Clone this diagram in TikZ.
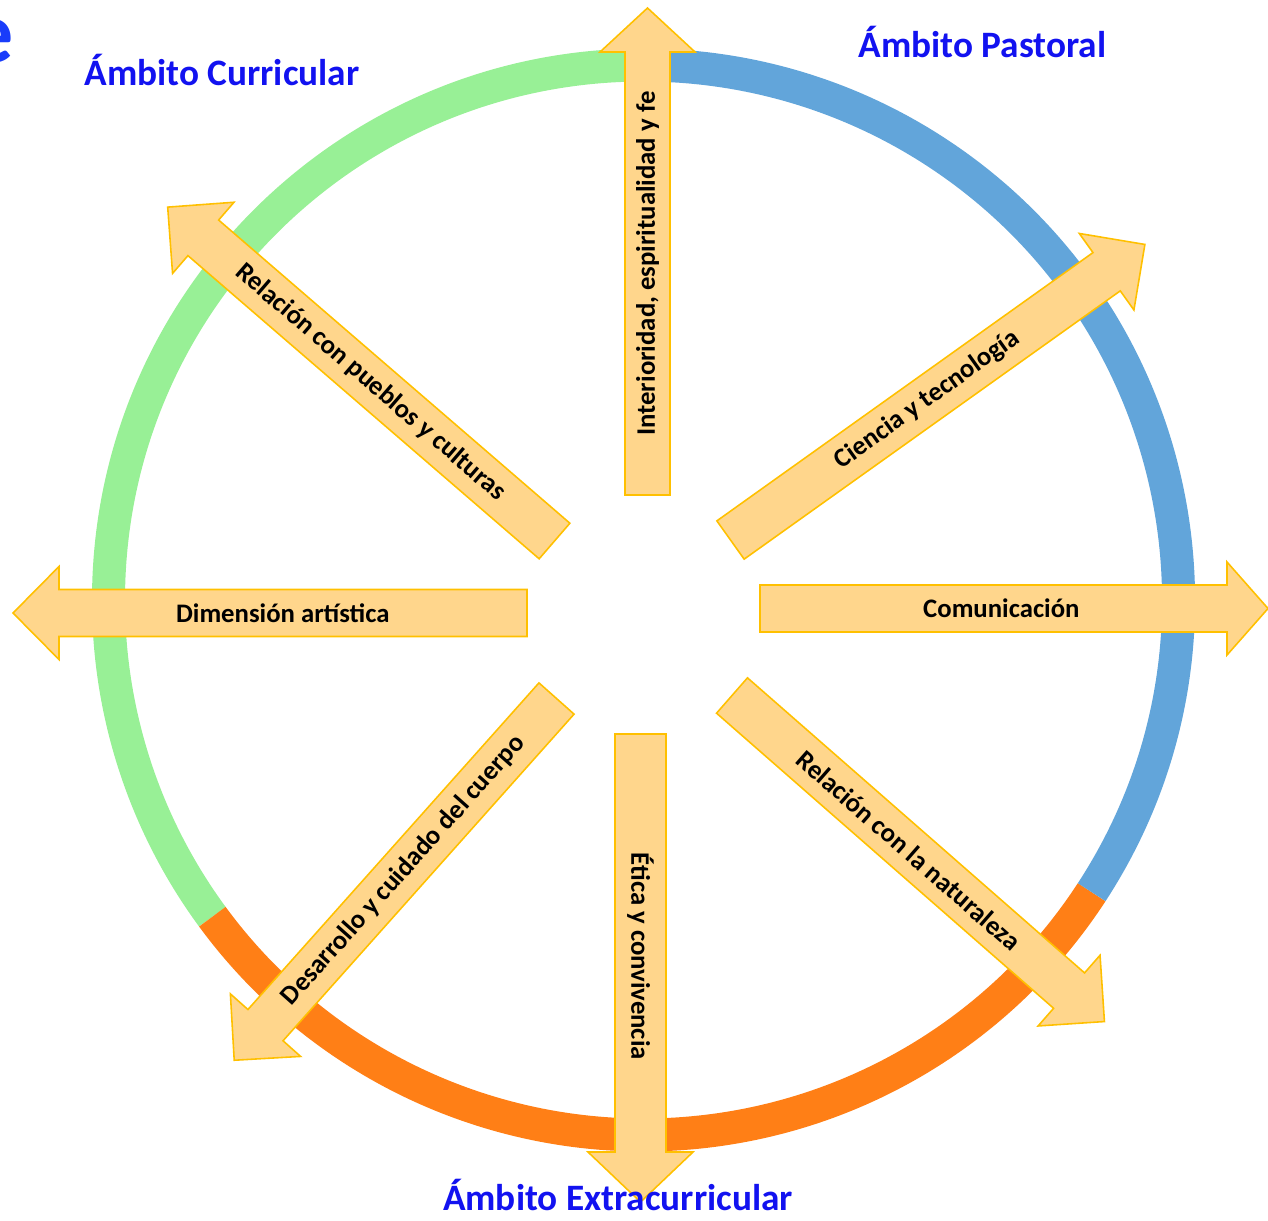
\documentclass[tikz,border=0pt]{standalone}
\usepackage{fontspec}
\setmainfont{Carlito}

\definecolor{ringgreen}{RGB}{152,240,150}
\definecolor{ringblue}{RGB}{98,165,218}
\definecolor{ringorange}{RGB}{255,127,22}
\definecolor{arrowfill}{RGB}{255,214,140}
\definecolor{arrowline}{RGB}{255,192,0}
\definecolor{ambito}{RGB}{18,18,240}
\definecolor{cutblue}{RGB}{25,60,250}

\tikzset{
  ring/.style={line width=0.33cm},
  spoke/.style={fill=arrowfill, draw=arrowline, line width=0.45pt, line join=miter},
  spokelabel/.style={font=\fontsize{7.6}{9}\selectfont\bfseries, transform shape, inner sep=0pt},
  ambitolabel/.style={font=\fontsize{10.6}{12}\selectfont\bfseries, text=ambito, inner sep=0pt, anchor=base}
}

\begin{document}
\begin{tikzpicture}[x=0.01cm, y=0.01cm]
  \useasboundingbox (0,0) rectangle (1268,1220);
  \clip (0,0) rectangle (1268,1220);

  % Cut-off letter at the edge
  \node[font=\fontsize{25}{30}\selectfont\bfseries, text=cutblue, inner sep=0pt, anchor=base east] (cut) at (14,1157) {e};

  % Ring
  \coordinate (c) at (643.5,620);
  \draw[ring, ringgreen] ([shift={(c)}]90:535) arc[start angle=90, end angle=216.3, radius=535];
  \draw[ring, ringorange] ([shift={(c)}]216.3:535) arc[start angle=216.3, end angle=326.9, radius=535];
  \draw[ring, ringblue] ([shift={(c)}]-33.1:535) arc[start angle=-33.1, end angle=90, radius=535];

  % Arrows
  \foreach \px/\py/\ang/\len/\sw/\hw/\hl/\flip/\txt [count=\i] in {
      647.5/725/90/487/45/95/44/0/{Interioridad, espiritualidad y fe},
      730.5/680/35.5/509/47/94/47/0/{Ciencia y tecnología},
      760/611.5/0/508/47/93/41/0/{Comunicación},
      732/524.5/-41.2/495/47/94/47/0/{Relación con la naturaleza},
      640.5/486/-90/468/51/105/50/0/{Ética y convivencia},
      556.5/521.5/228.3/484.5/47/94/47/180/{Desarrollo y cuidado del cuerpo},
      527/607/180/514/47/93/46/180/{Dimensión artística},
      554.5/679/139.2/511/47/94/47/180/{Relación con pueblos y culturas}} {
    \begin{scope}[shift={(\px,\py)}, rotate=\ang]
      \filldraw[spoke] (0,-\sw/2) -- (\len-\hl,-\sw/2) -- (\len-\hl,-\hw/2) -- (\len,0)
        -- (\len-\hl,\hw/2) -- (\len-\hl,\sw/2) -- (0,\sw/2) -- cycle;
      \node[spokelabel, rotate=\flip] (spoke\i) at (0.475*\len,0) {\txt};
    \end{scope}
  }

  % Labels
  \node[ambitolabel] (curricular) at (222,1134) {Ámbito Curricular};
  \node[ambitolabel] (pastoral) at (982.5,1162) {Ámbito Pastoral};
  \node[ambitolabel] (extra) at (618,10) {Ámbito Extracurricular};
\end{tikzpicture}
\end{document}
